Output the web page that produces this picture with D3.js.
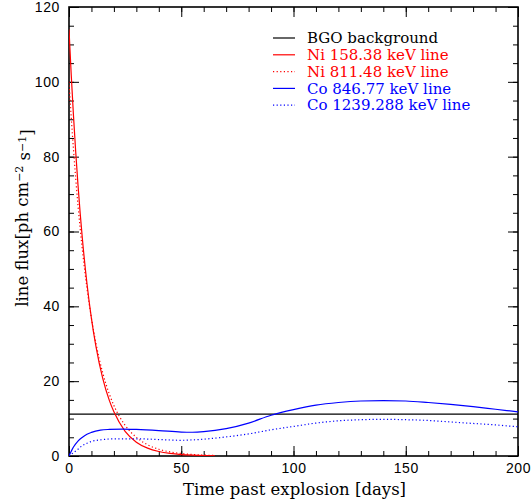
<!DOCTYPE html>
<meta charset="utf-8">
<head>
  <meta charset="utf-8">
  <title>Line flux</title>
  <style>
    body { margin: 0; background: #fff; }
    .tick text { font-family: "Liberation Sans", sans-serif; font-size: 14px; letter-spacing: 0.6px; fill: #000; }
    .legend text { font-family: "DejaVu Serif", serif; font-size: 15px; }
  </style>
</head>
<body>
<script src="https://cdn.jsdelivr.net/npm/d3@7/dist/d3.min.js"></script>
<script>

// data (days, ph cm^-2 s^-1)
var niDays   = [0, 1, 2, 3, 4, 5, 6, 8, 10, 12, 15, 18, 20, 25, 30, 35, 40, 45, 50, 55, 60, 65];
var ni158    = [114, 101.8, 90.9, 81.2, 72.5, 64.7, 57.8, 46.1, 36.7, 29.3, 20.8, 14.8, 11.8, 6.6, 3.7, 2.1, 1.2, 0.69, 0.39, 0.22, 0.12, 0.07];
var ni811    = [100, 90.5, 81.9, 74.1, 67, 60.7, 54.9, 44.9, 36.8, 30.1, 22.3, 16.5, 13.5, 8.2, 5.0, 3.0, 1.8, 1.1, 0.67, 0.41, 0.25, 0.15];

var coDays   = [0, 2, 4, 6, 8, 10, 14, 18, 24, 30, 40, 50, 55, 60, 70, 80, 90, 100, 110, 120, 130, 140, 150, 160, 170, 180, 190, 200];
var co847    = [0, 2.4, 4.0, 5.0, 5.8, 6.3, 6.9, 7.1, 7.2, 7.1, 6.8, 6.4, 6.35, 6.5, 7.3, 8.8, 10.9, 12.4, 13.6, 14.3, 14.7, 14.8, 14.7, 14.3, 13.8, 13.2, 12.5, 11.8];
var co1238   = [0, 0.9, 1.8, 2.8, 3.4, 3.9, 4.3, 4.55, 4.6, 4.6, 4.4, 4.2, 4.3, 4.5, 5.1, 5.9, 7.0, 7.9, 8.8, 9.4, 9.7, 9.8, 9.7, 9.5, 9.1, 8.7, 8.3, 7.8];

var bgoDays  = [0, 200];
var bgo      = [11.2, 11.2];

var legendLabels = ["BGO background", "Ni 158.38 keV line", "Ni 811.48 keV line", "Co 846.77 keV line", "Co 1239.288 keV line"];

var xMajor = [0, 50, 100, 150, 200];
var xMinor = d3.range(0, 201, 10);
var yMajor = [0, 20, 40, 60, 80, 100, 120];
var yMinor = d3.range(0, 121, 5);

// frame of the plot
var margin = {top: 7, right: 13, bottom: 48, left: 69},
    width = 518 - margin.left,
    height = 456 - margin.top;

var x = d3.scaleLinear().domain([0, 200]).range([0, width]);
var y = d3.scaleLinear().domain([0, 120]).range([height, 0]);

var svg = d3.select("body").append("svg")
    .attr("width", 531)
    .attr("height", 504)
  .append("g")
    .attr("transform", "translate(" + margin.left + "," + margin.top + ")");

svg.append("defs").append("clipPath").attr("id", "clip")
  .append("rect").attr("width", width).attr("height", height);

// axes, ticks pointing inward on all four sides
function noLabels(g) { g.selectAll("text").remove(); }
function tidy(g) {
  g.select(".domain").remove();
  g.selectAll("line").attr("stroke", "#000").attr("stroke-width", 1);
}

svg.append("g").attr("transform", "translate(0," + height + ")")
    .call(d3.axisBottom(x).tickValues(xMinor).tickSize(-5)).call(noLabels).call(tidy);
svg.append("g").attr("transform", "translate(0," + height + ")")
    .call(d3.axisBottom(x).tickValues(xMajor).tickSize(-10).tickPadding(7)).call(tidy);
svg.append("g")
    .call(d3.axisTop(x).tickValues(xMinor).tickSize(-5)).call(noLabels).call(tidy);
svg.append("g")
    .call(d3.axisTop(x).tickValues(xMajor).tickSize(-10)).call(noLabels).call(tidy);

svg.append("g")
    .call(d3.axisLeft(y).tickValues(yMinor).tickSize(-5)).call(noLabels).call(tidy);
svg.append("g")
    .call(d3.axisLeft(y).tickValues(yMajor).tickSize(-10).tickPadding(9)).call(tidy);
svg.append("g").attr("transform", "translate(" + width + ",0)")
    .call(d3.axisRight(y).tickValues(yMinor).tickSize(-5)).call(noLabels).call(tidy);
svg.append("g").attr("transform", "translate(" + width + ",0)")
    .call(d3.axisRight(y).tickValues(yMajor).tickSize(-10)).call(noLabels).call(tidy);

svg.append("rect")
    .attr("width", width).attr("height", height)
    .attr("fill", "none").attr("stroke", "#000").attr("stroke-width", 1.6);

// curves
function pairs(xs, ys) { return xs.map(function(d, i) { return [d, ys[i]]; }); }
var line = d3.line()
    .x(function(d) { return x(d[0]); })
    .y(function(d) { return y(d[1]); })
    .curve(d3.curveMonotoneX);

var series = [
  {data: pairs(bgoDays, bgo),    color: "#000",    dash: null},
  {data: pairs(niDays, ni158),   color: "#ff0000", dash: null},
  {data: pairs(niDays, ni811),   color: "#ff0000", dash: "1.2,2.4"},
  {data: pairs(coDays, co847),   color: "#0000ff", dash: null},
  {data: pairs(coDays, co1238),  color: "#0000ff", dash: "1.2,2.4"}
];

var plot = svg.append("g").attr("clip-path", "url(#clip)");
series.forEach(function(s) {
  plot.append("path")
      .datum(s.data)
      .attr("d", line)
      .attr("fill", "none")
      .attr("stroke", s.color)
      .attr("stroke-width", 1.2)
      .attr("stroke-dasharray", s.dash);
});

// legend
var legend = svg.append("g").attr("class", "legend")
    .attr("transform", "translate(" + (273 - margin.left) + "," + (38 - margin.top) + ")");
series.forEach(function(s, i) {
  var row = legend.append("g").attr("transform", "translate(0," + (i * 16.8) + ")");
  row.append("line")
      .attr("x1", 0).attr("x2", 22)
      .attr("stroke", s.color).attr("stroke-width", 1.2)
      .attr("stroke-dasharray", s.dash);
  row.append("text")
      .attr("x", 34).attr("dy", "0.35em")
      .attr("fill", s.color)
      .text(legendLabels[i]);
});

// axis titles
svg.append("text")
    .attr("x", width / 2 + 1).attr("y", 495 - margin.top)
    .attr("text-anchor", "middle")
    .style("font-family", "DejaVu Serif").style("font-size", "16.5px")
    .text("Time past explosion [days]");

var yt = svg.append("text")
    .attr("transform", "translate(" + (28 - margin.left) + "," + (218 - margin.top) + ") rotate(-90)")
    .attr("text-anchor", "middle")
    .style("font-family", "DejaVu Serif").style("font-size", "16.5px");
yt.append("tspan").text("line flux[ph cm");
yt.append("tspan").attr("dy", "-0.45em").style("font-size", "11px").text("\u22122");
yt.append("tspan").attr("dy", "0.45em").text(" s");
yt.append("tspan").attr("dy", "-0.45em").style("font-size", "11px").text("\u22121");
yt.append("tspan").attr("dy", "0.45em").text("]");

</script>
</body>
